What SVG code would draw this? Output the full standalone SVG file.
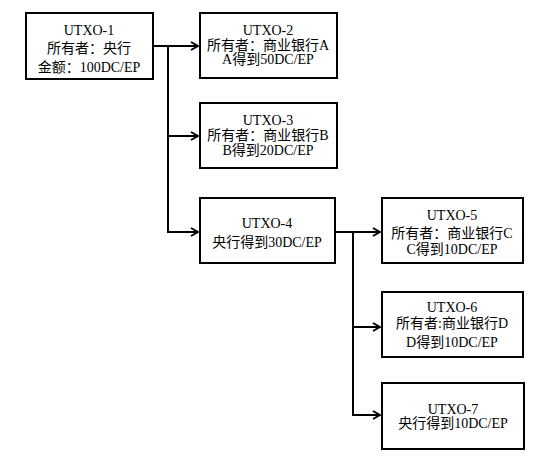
<svg xmlns="http://www.w3.org/2000/svg" width="540" height="460" viewBox="0 0 540 460">
<defs>
<style>
.box{fill:#fff;stroke:#000;stroke-width:2}
.t{font-family:"Liberation Serif","Noto Sans CJK SC",serif;font-size:14px;fill:#000;text-anchor:middle}
.c{fill:none;stroke:#000;stroke-width:2}
</style>
<marker id="ah" viewBox="0 0 10 10" refX="9" refY="5" markerWidth="10" markerHeight="10" markerUnits="userSpaceOnUse" orient="auto">
<path d="M2,1 L9,5 L2,9" fill="none" stroke="#000" stroke-width="2"/>
</marker>
</defs>
<rect width="540" height="460" fill="#fff"/>
<g id="connectors">
<path class="c" d="M153,46 H198" marker-end="url(#ah)"/>
<path class="c" d="M168,46 V232 H198" marker-end="url(#ah)"/>
<path class="c" d="M168,136 H198" marker-end="url(#ah)"/>
<path class="c" d="M335,232 H380" marker-end="url(#ah)"/>
<path class="c" d="M353,232 V415 H380" marker-end="url(#ah)"/>
<path class="c" d="M353,327 H380" marker-end="url(#ah)"/>
</g>
<g id="utxo1">
<rect class="box" x="26" y="13" width="127" height="66"/>
<text class="t" x="89" y="35">UTXO-1</text>
<text class="t" x="89" y="53">所有者：央行</text>
<text class="t" x="89" y="72">金额：100DC/EP</text>
</g>
<g id="utxo2">
<rect class="box" x="200" y="13" width="137" height="65"/>
<text class="t" x="268" y="35">UTXO-2</text>
<text class="t" x="268" y="50">所有者：商业银行A</text>
<text class="t" x="268" y="64">A得到50DC/EP</text>
</g>
<g id="utxo3">
<rect class="box" x="200" y="103" width="137" height="65"/>
<text class="t" x="268" y="125">UTXO-3</text>
<text class="t" x="268" y="140">所有者：商业银行B</text>
<text class="t" x="268" y="155">B得到20DC/EP</text>
</g>
<g id="utxo4">
<rect class="box" x="200" y="198" width="135" height="65"/>
<text class="t" x="267" y="228">UTXO-4</text>
<text class="t" x="267" y="247">央行得到30DC/EP</text>
</g>
<g id="utxo5">
<rect class="box" x="382" y="198" width="141" height="65"/>
<text class="t" x="452" y="220">UTXO-5</text>
<text class="t" x="452" y="238">所有者：商业银行C</text>
<text class="t" x="452" y="254">C得到10DC/EP</text>
</g>
<g id="utxo6">
<rect class="box" x="382" y="292" width="141" height="65"/>
<text class="t" x="452" y="312">UTXO-6</text>
<text class="t" x="452" y="328">所有者:商业银行D</text>
<text class="t" x="452" y="347">D得到10DC/EP</text>
</g>
<g id="utxo7">
<rect class="box" x="382" y="383" width="142" height="66"/>
<text class="t" x="453" y="414">UTXO-7</text>
<text class="t" x="453" y="428">央行得到10DC/EP</text>
</g>
</svg>
